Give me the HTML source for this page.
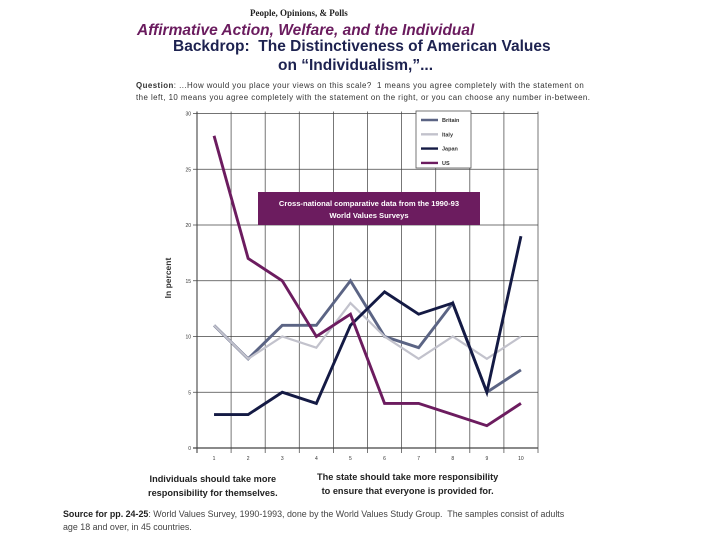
<!DOCTYPE html>
<html><head><meta charset="utf-8"><style>
body{margin:0;width:720px;height:540px;background:#fff;position:relative;overflow:hidden;font-family:"Liberation Sans",sans-serif}
.t{position:absolute;white-space:nowrap}
</style></head><body>
<div class="t" style="left:250px;top:8px;font:bold 9px 'Liberation Serif',serif;color:#222">People, Opinions, &amp; Polls</div>
<div class="t" style="left:137px;top:22px;font:italic bold 15.5px 'Liberation Sans',sans-serif;color:#6a1b5e">Affirmative Action, Welfare, and the Individual</div>
<div class="t" style="left:173px;top:38px;font:bold 15.5px 'Liberation Sans',sans-serif;color:#1d2250">Backdrop:&nbsp; The Distinctiveness of American Values</div>
<div class="t" style="left:278px;top:57px;font:bold 15.5px 'Liberation Sans',sans-serif;color:#1d2250">on “Individualism,”...</div>
<div class="t" style="left:136px;top:80px;font:7.9px/12px 'Liberation Sans',sans-serif;color:#333;letter-spacing:0.45px"><b>Question</b>: ...How would you place your views on this scale?&nbsp; 1 means you agree completely with the statement on<br>the left, 10 means you agree completely with the statement on the right, or you can choose any number in-between.</div>
<svg id="c" width="720" height="540" style="position:absolute;left:0;top:0"></svg>
<div class="t" style="left:148px;top:472px;font:bold 9.2px/14px 'Liberation Sans',sans-serif;color:#222;text-align:center">Individuals should take more<br>responsibility for themselves.</div>
<div class="t" style="left:317px;top:470px;font:bold 9.2px/14px 'Liberation Sans',sans-serif;color:#222;text-align:center">The state should take more responsibility<br>to ensure that everyone is provided for.</div>
<div class="t" style="left:63px;top:508px;font:8.9px/13px 'Liberation Sans',sans-serif;color:#444"><b style="color:#222">Source for pp. 24-25</b>: World Values Survey, 1990-1993, done by the World Values Study Group.&nbsp; The samples consist of adults<br>age 18 and over, in 45 countries.</div>
<script>
const categories=[1,2,3,4,5,6,7,8,9,10];
const britain=[11,8,11,11,15,10,9,13,5,7];
const italy=[11,8,10,9,13,10,8,10,8,10];
const japan=[3,3,5,4,11,14,12,13,5,19];
const us=[28,17,15,10,12,4,4,3,2,4];
const yTicks=[0,5,10,15,20,25,30];
const seriesNames=["Britain","Italy","Japan","US"];
const NS="http://www.w3.org/2000/svg";
const svg=document.getElementById('c');
const X0=197,STEP=34.1,Y0=448,YS=11.15;
const x=i=>X0+STEP*(i+0.5);
const y=v=>Y0-v*YS;
function mk(t,a){const e=document.createElementNS(NS,t);for(const k in a)e.setAttribute(k,a[k]);svg.appendChild(e);return e;}
for(let k=0;k<=categories.length;k++){const l=mk('line',{x1:X0+STEP*k,x2:X0+STEP*k,y1:y(30)-2,y2:Y0+5,stroke:'#555','stroke-width':k==0?1.2:0.8});

}
yTicks.forEach(v=>{const l=mk('line',{x1:X0-4,x2:X0+STEP*10,y1:y(v),y2:y(v),stroke:'#444','stroke-width':v==0?1.2:0.8});


const t=mk('text',{x:X0-6,y:y(v)+2,'font-size':5,'text-anchor':'end',fill:'#333'});t.textContent=v;

});
categories.forEach((c,i)=>{const t=mk('text',{x:x(i),y:Y0+12,'font-size':5,'text-anchor':'middle',fill:'#333'});t.textContent=c;

});
const yt=mk('text',{x:0,y:0,'font-size':8.5,'font-weight':'bold',fill:'#333','text-anchor':'middle',transform:'translate(171,278) rotate(-90)'});yt.textContent='In percent';


const bb=mk('rect',{x:258,y:192,width:222,height:33,fill:'#6c1c5f'});


[['Cross-national comparative data from the 1990-93',206],['World Values Surveys',218]].forEach(([s,yy])=>{const t=mk('text',{x:369,y:yy,'font-size':7.6,'font-weight':'bold',fill:'#fff','text-anchor':'middle'});t.textContent=s;

});
const data=[britain,italy,japan,us];
const colors=['#5b6484','#c2c2cc','#141a44','#6c1c5f'];
data.forEach((d,s)=>{const p=mk('polyline',{points:d.map((v,i)=>x(i)+','+y(v)).join(' '),fill:'none',stroke:colors[s],'stroke-width':s==1?2.2:2.9,'stroke-linejoin':'miter'});

});
const lg=mk('rect',{x:416,y:111,width:55,height:57,fill:'#fff',stroke:'#555','stroke-width':0.8});


seriesNames.forEach((n,s)=>{const yy=120+s*14.3;
const l=mk('line',{x1:421,x2:438,y1:yy,y2:yy,stroke:colors[s],'stroke-width':2.4});


const t=mk('text',{x:442,y:yy+2,'font-size':5.5,'font-weight':'bold',fill:'#333'});t.textContent=n;

});
</script>
</body></html>
